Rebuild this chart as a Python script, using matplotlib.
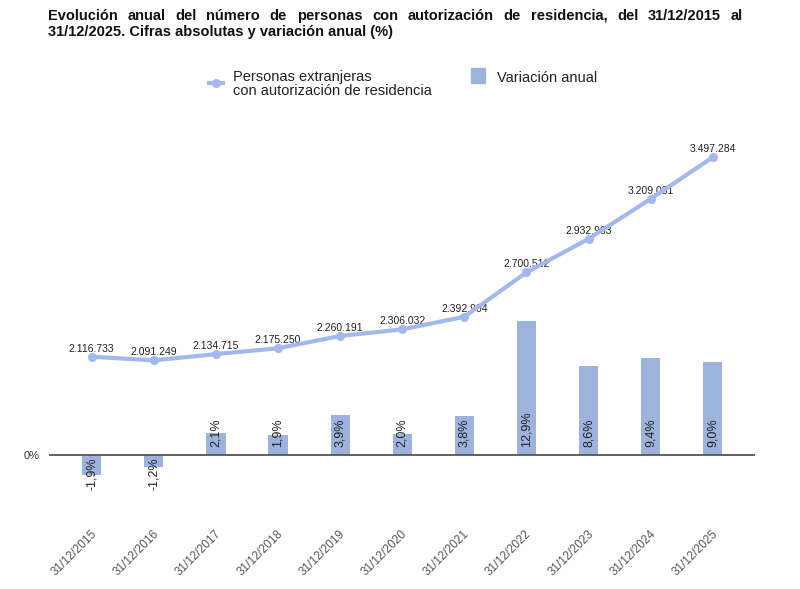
import matplotlib
matplotlib.use("Agg")
import matplotlib.pyplot as plt
from matplotlib.lines import Line2D
from matplotlib.patches import Rectangle
from matplotlib.transforms import ScaledTranslation

plt.rcParams['font.family'] = ['Liberation Sans', 'DejaVu Sans']

# Data
fechas = ['31/12/2015', '31/12/2016', '31/12/2017', '31/12/2018', '31/12/2019',
          '31/12/2020', '31/12/2021', '31/12/2022', '31/12/2023', '31/12/2024',
          '31/12/2025']
personas = [2116733, 2091249, 2134715, 2175250, 2260191, 2306032, 2392904,
            2700512, 2932963, 3209031, 3497284]
variacion = [-1.9, -1.2, 2.1, 1.9, 3.9, 2.0, 3.8, 12.9, 8.6, 9.4, 9.0]

titulo1 = "Evolución anual del número de personas con autorización de residencia, del 31/12/2015 al"
titulo2 = "31/12/2025. Cifras absolutas y variación anual (%)"

line_color = '#a3b8ef'
bar_color = '#9db3de'
W, H = 800, 589

fig = plt.figure(figsize=(8, 5.89), dpi=100)
ax = fig.add_axes([49 / W, 1 - 510 / H, 706 / W, 380 / H])
ax2 = ax.twinx()

x = list(range(len(fechas)))

# bars (variación anual)
ax.bar(x, variacion, width=0.31, color=bar_color, zorder=2)
ax.axhline(0, color='#555555', lw=1.3, zorder=3)
for xi, v in zip(x, variacion):
    txt = f"{v:.1f}%".replace('.', ',')
    if v >= 0:
        ax.text(xi, 0.8, txt, rotation=90, ha='center', va='bottom',
                fontsize=9, color='#222222', zorder=4)
    else:
        ax.text(xi, -0.25, txt, rotation=90, ha='center', va='top',
                fontsize=9, color='#222222', zorder=4)

ax.set_xlim(-0.688, 10.68)
ax.set_ylim(-5.30, 31.34)
ax.set_yticks([0])
ax.set_yticklabels(['0%'], fontsize=8, color='#333333')
ax.tick_params(axis='y', length=0, pad=6.5)
ax.set_xticks(x)
ax.set_xticklabels(fechas, rotation=45, ha='right', va='center',
                   rotation_mode='anchor', fontsize=8.5, color='#555555')
ax.tick_params(axis='x', length=0, pad=15.8)
offset = ScaledTranslation(3 / 100, 0, fig.dpi_scale_trans)
for lab in ax.get_xticklabels():
    lab.set_transform(lab.get_transform() + offset)

# line (personas)
ax2.plot(x, personas, color=line_color, lw=3, marker='o', markersize=5.5,
         solid_capstyle='round', zorder=5)
for xi, v in zip(x, personas):
    ax2.annotate(f"{v:,}".replace(',', '.'), (xi, v), xytext=(0, 3.6),
                 textcoords='offset points', ha='center', va='baseline',
                 fontsize=7.5, color='#222222')
ax2.set_ylim(1055437, 3686187)
ax2.set_yticks([])

for a in (ax, ax2):
    for s in a.spines.values():
        s.set_visible(False)

# title, justified first line
fig.canvas.draw()
r = fig.canvas.get_renderer()
words = titulo1.split()
texts = [fig.text(0, 1 - 20 / H, w, fontsize=10.5, fontweight='bold',
                  va='baseline', color='#111111') for w in words]
widths = [t.get_window_extent(r).width for t in texts]
gap = (743 - 48 - sum(widths)) / (len(words) - 1)
xp = 48
for t, w in zip(texts, widths):
    t.set_x(xp / W)
    xp += w + gap
fig.text(48 / W, 1 - 36 / H, titulo2, fontsize=10.5, fontweight='bold',
         va='baseline', color='#111111')

# legend
fig.add_artist(Line2D([209 / W, 223 / W], [1 - 83 / H] * 2, transform=fig.transFigure,
                      color=line_color, lw=3))
fig.add_artist(Line2D([216 / W], [1 - 83 / H], transform=fig.transFigure,
                      color=line_color, marker='o', markersize=5.5))
fig.text(233 / W, 1 - 81 / H, "Personas extranjeras", fontsize=10.5,
         va='baseline', color='#222222')
fig.text(233 / W, 1 - 95 / H, "con autorización de residencia", fontsize=10.5,
         va='baseline', color='#222222')
fig.add_artist(Rectangle((471 / W, 1 - 83 / H), 14 / W, 15 / H,
                         transform=fig.transFigure, color=bar_color))
fig.text(497 / W, 1 - 82 / H, "Variación anual", fontsize=10.5,
         va='baseline', color='#222222')

fig.savefig('out.png', dpi=100)
